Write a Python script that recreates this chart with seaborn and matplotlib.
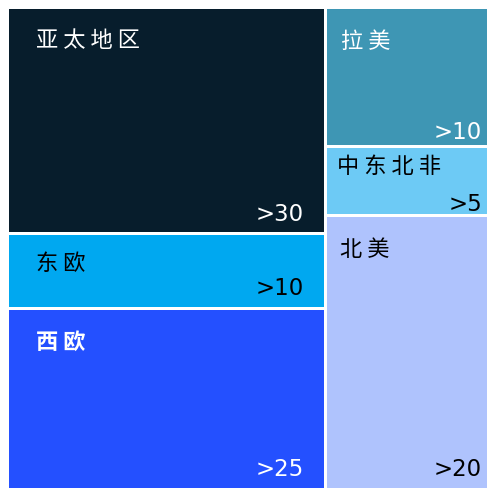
import matplotlib
matplotlib.use("Agg")
import matplotlib.pyplot as plt
import seaborn as sns

# Market share by region (values behind the bucket labels)
regions = ["亚太地区", "东欧", "西欧", "拉美", "中东北非", "北美"]
shares = [32.8, 10.9, 26.3, 10.4, 5.2, 20.5]
value_labels = [">30", ">10", ">25", ">10", ">5", ">20"]
column = [0, 0, 0, 1, 1, 1]

# Styling
tile_colors = ["#071d2c", "#00a8f0", "#2450ff", "#3e96b4", "#6dcaf5", "#afc3fd"]
text_colors = ["white", "black", "white", "white", "black", "black"]
name_weights = ["normal", "normal", "bold", "normal", "normal", "normal"]

# Label offsets in pixels from the tile's top-left / bottom-right corners
name_dx = [29, 29, 29, 16, 12, 15]
name_dy = [33, 30, 33, 34, 20, 33]
value_dx = [21, 21, 21, 6.5, 6.5, 6.5]
value_dy = [13, 14, 14, 8, 5, 14]

sns.set_theme(style="white")
plt.rcParams["font.family"] = ["Noto Sans CJK SC", "DejaVu Sans"]

W, H, DPI = 487, 489, 100
fig = plt.figure(figsize=(W / DPI, H / DPI), dpi=DPI)
fig.patch.set_facecolor("white")

# Treemap area in pixels (outer edge of the white separators)
x0, x1, y0, y1 = 6.5, 488.5, 7.5, 490.5
ax = fig.add_axes([x0 / W, (H - y1) / H, (x1 - x0) / W, (y1 - y0) / H])
ax.set_xlim(0, 1)
ax.set_ylim(1, 0)
ax.axis("off")

# Slice-and-dice layout: columns by total share, tiles stacked within a column
total = sum(shares)
n_cols = max(column) + 1
col_tot = [sum(s for s, c in zip(shares, column) if c == k) for k in range(n_cols)]
col_left = [sum(col_tot[:k]) / total for k in range(n_cols)]
col_width = [t / total for t in col_tot]

lefts, tops, widths, heights = [], [], [], []
col_fill = [0.0] * n_cols
for s, c in zip(shares, column):
    h = s / col_tot[c]
    lefts.append(col_left[c])
    widths.append(col_width[c])
    tops.append(col_fill[c])
    heights.append(h)
    col_fill[c] += h

sep = 3 * 72 / DPI  # 3 px white separator
ax.bar(lefts, heights, width=widths, bottom=tops, align="edge",
       color=tile_colors, edgecolor="white", linewidth=sep)

for i, name in enumerate(regions):
    ax.annotate(" ".join(name), xy=(lefts[i], tops[i]),
                xytext=(name_dx[i], -name_dy[i]), textcoords="offset pixels",
                ha="left", va="center", fontsize=16, color=text_colors[i],
                fontweight=name_weights[i],
                family=["Noto Sans CJK SC", "DejaVu Sans"])
    ax.annotate(value_labels[i], xy=(lefts[i] + widths[i], tops[i] + heights[i]),
                xytext=(-value_dx[i], value_dy[i]), textcoords="offset pixels",
                ha="right", va="baseline", fontsize=16.5, color=text_colors[i],
                family=["DejaVu Sans"])

fig.savefig("out.png", dpi=DPI)
